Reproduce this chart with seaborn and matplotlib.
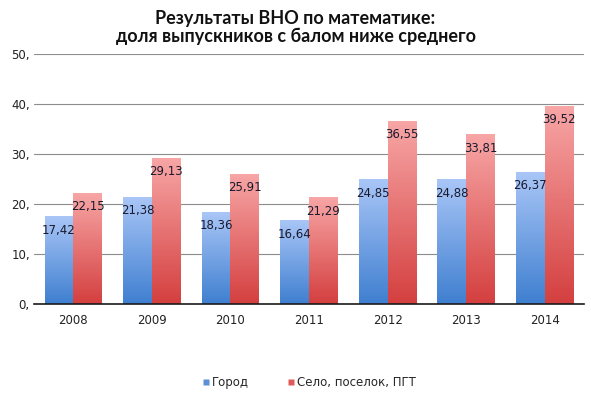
import numpy as np
import pandas as pd
import matplotlib
matplotlib.use("Agg")
import matplotlib.pyplot as plt
from matplotlib.colors import LinearSegmentedColormap
from matplotlib.lines import Line2D
import seaborn as sns

years = ["2008", "2009", "2010", "2011", "2012", "2013", "2014"]
city = [17.42, 21.38, 18.36, 16.64, 24.85, 24.88, 26.37]
village = [22.15, 29.13, 25.91, 21.29, 36.55, 33.81, 39.52]
series_names = ["Город", "Село, поселок, ПГТ"]
yticks = [0, 10, 20, 30, 40, 50]
title = "Результаты ВНО по математике:\nдоля выпускников с балом ниже среднего"

df = pd.DataFrame({
    "year": years * 2,
    "value": city + village,
    "series": [series_names[0]] * len(years) + [series_names[1]] * len(years),
})

sns.set_style("white")
plt.rcParams["font.family"] = ["DejaVu Sans"]

fig = plt.figure(figsize=(5.91, 3.96), dpi=100)
ax = fig.add_axes([34 / 591, 1 - 304 / 396, 550 / 591, 250 / 396])

pal = {series_names[0]: "#6f9de0", series_names[1]: "#e56a6a"}
sns.barplot(data=df, x="year", y="value", hue="series", palette=pal,
            width=0.73, ax=ax, legend=False, zorder=3)

grads = [
    LinearSegmentedColormap.from_list("b", ["#3f7fd0", "#a9c6f7"]),
    LinearSegmentedColormap.from_list("r", ["#d43f3f", "#f8a6a6"]),
]
grad = np.linspace(0, 1, 256).reshape(-1, 1)

for ci, cont in enumerate(ax.containers):
    vals = city if ci == 0 else village
    for bar, v in zip(cont.patches, vals):
        x0 = bar.get_x()
        w = bar.get_width()
        h = bar.get_height()
        ax.imshow(grad, cmap=grads[ci], origin="lower", aspect="auto",
                  extent=[x0, x0 + w, 0, h], zorder=3)
        bar.set_facecolor("none")
        bar.set_edgecolor("none")
        ax.text(x0 + w / 2, v - 2.7, f"{v:.2f}".replace(".", ","),
                ha="center", va="center", fontsize=8.5, color="#1a1a2e", zorder=5)

ax.set_xlim(-0.5, 6.5)
ax.set_ylim(0, 50)
ax.set_yticks(yticks)
ax.set_yticklabels([f"{t}," for t in yticks], fontsize=8.5, color="#222222")
ax.tick_params(axis="y", length=0, pad=3)
ax.tick_params(axis="x", length=0, pad=7, labelsize=8.5, labelcolor="#222222")
ax.yaxis.grid(True, color="#8c8c8c", linewidth=0.8, zorder=0)
ax.set_axisbelow(True)
for s in ["top", "right", "left"]:
    ax.spines[s].set_visible(False)
ax.spines["bottom"].set_color("#1a1a1a")
ax.spines["bottom"].set_linewidth(1.2)
ax.spines["bottom"].set_zorder(6)
ax.set_xlabel("")
ax.set_ylabel("")

fig.text(0.5, 0.975, title, ha="center", va="top", fontsize=13,
         fontweight="bold", family=["Lato", "DejaVu Sans"], color="#111111",
         linespacing=1.08)

handles = [
    Line2D([], [], marker="s", linestyle="none", markersize=5,
           markerfacecolor="#5c8fd6", markeredgecolor="none"),
    Line2D([], [], marker="s", linestyle="none", markersize=5,
           markerfacecolor="#e05a5a", markeredgecolor="none"),
]
fig.legend(handles, series_names, loc="center", bbox_to_anchor=(0.522, 0.033),
           ncol=2, frameon=False, fontsize=8.5, handletextpad=0.1,
           columnspacing=3.2, handlelength=0.8)

fig.savefig("out.png", dpi=100)
